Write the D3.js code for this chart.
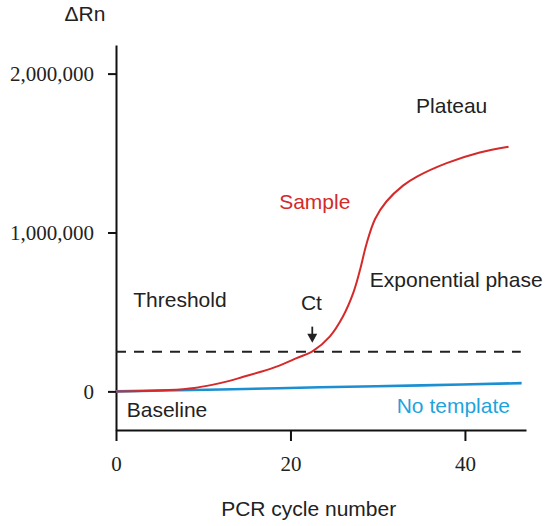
<!DOCTYPE html>
<html>
<head>
<meta charset="utf-8">
<script src="https://cdn.jsdelivr.net/npm/d3@7"></script>
<style>
  html, body { margin: 0; padding: 0; background: #fff; }
  svg { display: block; }
  .lbl { font-family: "Liberation Sans", Arial, sans-serif; font-size: 21px; fill: #222; }
  .tick text { font-family: "Liberation Serif", "Times New Roman", serif; font-size: 21px; fill: #222; }
</style>
</head>
<body>
<svg id="chart" width="550" height="526"></svg>
<script>
// ---- data ----
const sampleCycles = [0, 3, 6, 9, 11, 13, 14.6, 16.5, 18.4, 20.7, 22.6, 24.5, 26, 27.2, 28, 28.7, 29.7, 31, 32.9, 34.5, 37.9, 41.7, 45];
const sampleValues = [0, 2000, 8000, 22000, 41000, 66000, 92000, 122000, 156000, 209000, 255000, 345000, 470000, 620000, 770000, 925000, 1085000, 1195000, 1295000, 1352000, 1437000, 1504000, 1540000];
const noTemplateCycles = [0, 12, 23.4, 35, 46.5];
const noTemplateValues = [0, 12000, 26000, 38000, 52000];
const thresholdValue = 250000;
const thresholdCycles = [0, 46.4];
const ctCycle = 22.5;
const xTicks = [0, 20, 40];
const yTicks = [0, 1000000, 2000000];
const xTitle = "PCR cycle number";
const yTitle = "ΔRn";
const annotations = [
  { text: "Threshold", cycle: 1.98, value: 534000, anchor: "start", color: "#222" },
  { text: "Sample", cycle: 18.7, value: 1148000, anchor: "start", color: "#d42a2a" },
  { text: "Ct", cycle: 22.4, value: 513000, anchor: "middle", color: "#222" },
  { text: "Plateau", cycle: 34.4, value: 1752000, anchor: "start", color: "#222" },
  { text: "Exponential phase", cycle: 29.1, value: 660000, anchor: "start", color: "#222" },
  { text: "Baseline", cycle: 1.23, value: -159000, anchor: "start", color: "#222" },
  { text: "No template", cycle: 45.16, value: -135000, anchor: "end", color: "#1fa3dd" }
];

// ---- layout ----
const svg = d3.select("#chart");
const x = d3.scaleLinear().domain([0, 47]).range([116, 526]);
const y = d3.scaleLinear().domain([-243000, 2180000]).range([430, 45]);

const xAxis = d3.axisBottom(x).tickValues(xTicks).tickSize(11).tickSizeOuter(0).tickPadding(15).tickFormat(d3.format("d"));
const yAxis = d3.axisLeft(y).tickValues(yTicks).tickSize(8).tickSizeOuter(0).tickPadding(14).tickFormat(d3.format(","));

const gx = svg.append("g").attr("transform", `translate(0,${y.range()[0]})`).call(xAxis);
const gy = svg.append("g").attr("transform", `translate(${x.range()[0]},0)`).call(yAxis);
[gx, gy].forEach(g => {
  g.select(".domain").attr("stroke", "#111").attr("stroke-width", 2);
  g.selectAll(".tick line").attr("stroke", "#111").attr("stroke-width", 2);
});

// threshold dashed line
svg.append("line")
  .attr("x1", x(thresholdCycles[0])).attr("x2", x(thresholdCycles[1]))
  .attr("y1", y(thresholdValue)).attr("y2", y(thresholdValue))
  .attr("stroke", "#222").attr("stroke-width", 2).attr("stroke-dasharray", "10,8");

const line = d3.line().x(d => x(d[0])).y(d => y(d[1])).curve(d3.curveCatmullRom.alpha(0.5));

// no template line
svg.append("path")
  .datum(noTemplateCycles.map((c, i) => [c, noTemplateValues[i]]))
  .attr("d", line).attr("fill", "none").attr("stroke", "#1b8fd2").attr("stroke-width", 2.6);

// sample curve
svg.append("path")
  .datum(sampleCycles.map((c, i) => [c, sampleValues[i]]))
  .attr("d", line).attr("fill", "none").attr("stroke", "#d42a2a").attr("stroke-width", 2);

// Ct arrow
const ax = x(ctCycle);
const tipY = y(thresholdValue) - 9;
svg.append("line").attr("x1", ax).attr("x2", ax).attr("y1", tipY - 16).attr("y2", tipY - 7)
  .attr("stroke", "#222").attr("stroke-width", 1.8);
svg.append("path")
  .attr("d", `M${ax - 5},${tipY - 9}L${ax + 5},${tipY - 9}L${ax},${tipY}Z`)
  .attr("fill", "#222");

// annotations
svg.selectAll("text.ann").data(annotations).enter().append("text")
  .attr("class", "lbl ann")
  .attr("x", d => x(d.cycle)).attr("y", d => y(d.value))
  .attr("text-anchor", d => d.anchor)
  .style("fill", d => d.color)
  .text(d => d.text);

// axis titles
svg.append("text").attr("class", "lbl").attr("x", x.range()[0] - 31).attr("y", 21)
  .attr("text-anchor", "middle").text(yTitle);
svg.append("text").attr("class", "lbl").attr("x", 308.7).attr("y", 516)
  .attr("text-anchor", "middle").text(xTitle);
</script>
</body>
</html>
